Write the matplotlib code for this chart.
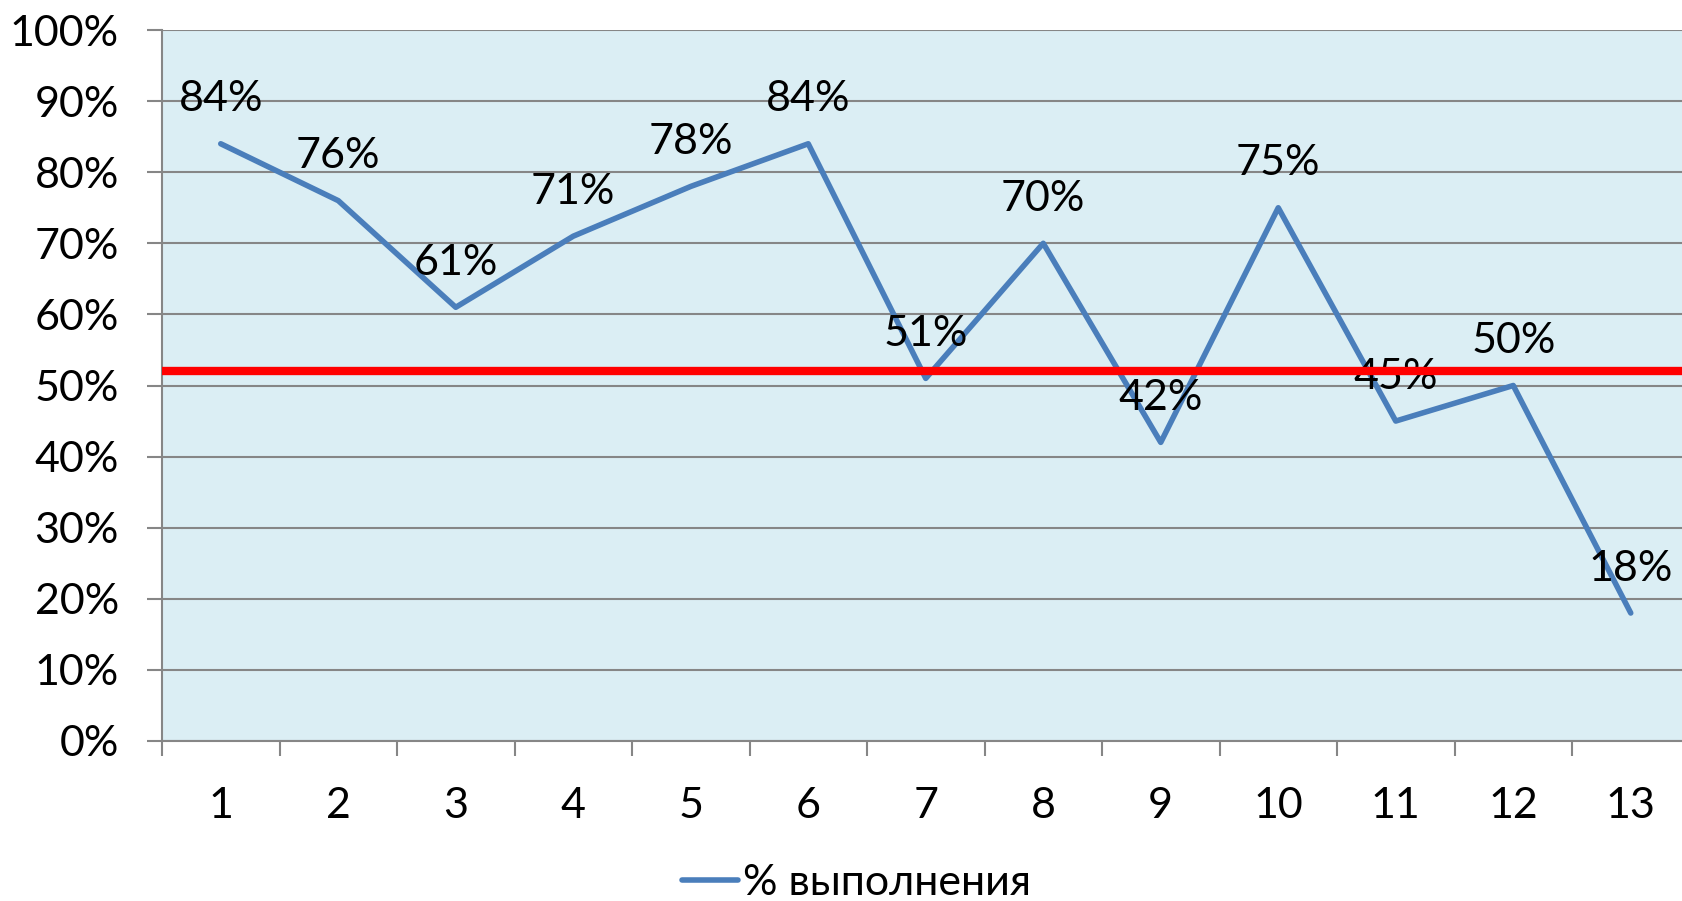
import matplotlib
matplotlib.use("Agg")
import matplotlib.pyplot as plt
from matplotlib.ticker import FixedLocator, FuncFormatter

# данные
points = list(range(1, 14))
completion = [84, 76, 61, 71, 78, 84, 51, 70, 42, 75, 45, 50, 18]
threshold = 52
series_name = "% выполнения"

plt.rcParams["font.family"] = ["Lato", "Open Sans", "DejaVu Sans"]

W, H = 1682, 901
fig = plt.figure(figsize=(W / 100, H / 100), dpi=100)
left, right, top, bottom = 162, 1689.5, 30, 741
ax = fig.add_axes([left / W, 1 - bottom / H, (right - left) / W, (bottom - top) / H])

grid_c = "#868686"
fs = 31
ax.set_facecolor("#dbeef4")
ax.set_xlim(0.5, 13.5)
ax.set_ylim(0, 100)
ax.set_yticks(range(0, 101, 10))
ax.yaxis.set_major_formatter(FuncFormatter(lambda v, _: f"{v:.0f}%"))
ax.yaxis.grid(True, color=grid_c, lw=1.5)
ax.set_axisbelow(True)
ax.tick_params(axis="y", length=11, width=1.5, color=grid_c, pad=20, labelsize=fs)

ax.set_xticks(points)
ax.xaxis.set_minor_locator(FixedLocator([p + 0.5 for p in range(0, 14)]))
ax.tick_params(axis="x", which="major", length=0, pad=33, labelsize=fs)
ax.tick_params(axis="x", which="minor", length=11, width=1.5, color=grid_c)

for s in ["top", "right"]:
    ax.spines[s].set_visible(False)
for s in ["left", "bottom"]:
    ax.spines[s].set_color(grid_c)
    ax.spines[s].set_linewidth(1.5)

line, = ax.plot(points, completion, color="#4a7ebb", lw=4, label=series_name,
                solid_capstyle="round", solid_joinstyle="round", zorder=3)

for x, v in zip(points, completion):
    ax.annotate(f"{v}%", (x, v), xytext=(0, 32), textcoords="offset points",
                ha="center", va="center", fontsize=fs, zorder=4)

ax.axhline(threshold, color="#ff0000", lw=6, zorder=5)

fig.legend(handles=[line], loc="center left", bbox_to_anchor=(682 / W, 1 - 883 / H),
           frameon=False, fontsize=fs, handlelength=1.3, handletextpad=0.12,
           borderpad=0, borderaxespad=0)

fig.savefig("out.png", dpi=100)
